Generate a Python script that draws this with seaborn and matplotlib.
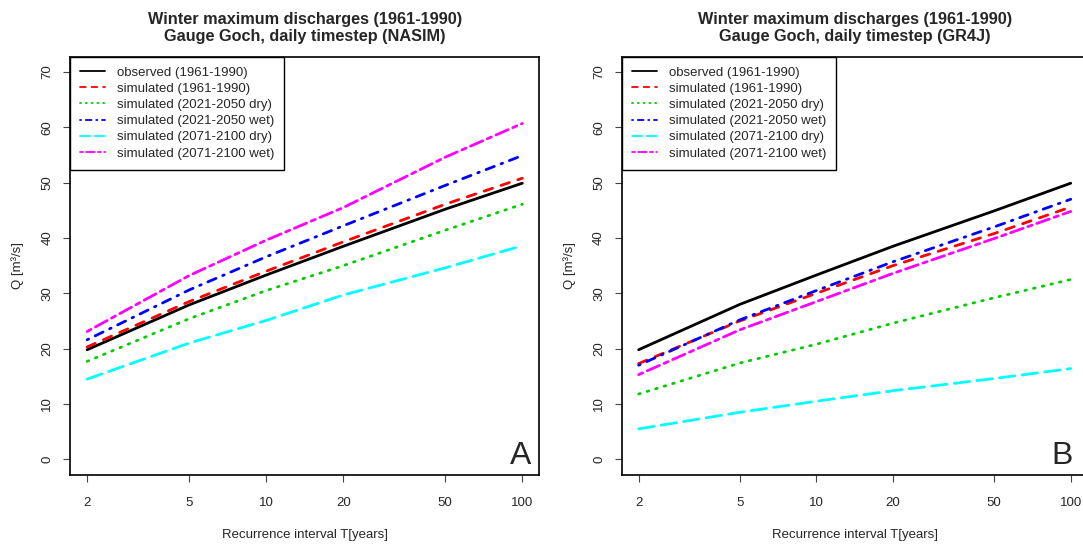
import numpy as np
import pandas as pd
import matplotlib
matplotlib.use("Agg")
import matplotlib.pyplot as plt
from matplotlib.lines import Line2D
from matplotlib.ticker import FixedLocator, FixedFormatter, NullLocator
import seaborn as sns

# recurrence intervals [years]
T = [2, 5, 10, 20, 50, 100]

series = ["observed (1961-1990)", "simulated (1961-1990)",
          "simulated (2021-2050 dry)", "simulated (2021-2050 wet)",
          "simulated (2071-2100 dry)", "simulated (2071-2100 wet)"]

# NASIM, Q [m3/s]
nasim_obs = [19.8, 27.9, 33.3, 38.5, 45.2, 49.9]
nasim_sim = [20.3, 28.5, 34.0, 39.3, 46.1, 50.8]
nasim_dry2050 = [17.7, 25.4, 30.5, 35.0, 41.4, 46.1]
nasim_wet2050 = [21.6, 30.6, 36.6, 42.2, 49.5, 54.9]
nasim_dry2100 = [14.5, 21.0, 25.1, 29.7, 34.6, 38.6]
nasim_wet2100 = [23.1, 33.2, 39.6, 45.5, 54.6, 60.7]

# GR4J, Q [m3/s]
gr4j_obs = [19.8, 28.0, 33.3, 38.5, 44.9, 49.9]
gr4j_sim = [17.3, 25.0, 30.0, 35.0, 40.8, 45.6]
gr4j_dry2050 = [11.8, 17.4, 20.8, 24.6, 29.2, 32.5]
gr4j_wet2050 = [17.0, 25.2, 30.5, 35.7, 42.0, 47.0]
gr4j_dry2100 = [5.5, 8.5, 10.5, 12.4, 14.6, 16.4]
gr4j_wet2100 = [15.3, 23.4, 28.5, 33.6, 39.9, 44.8]

colors = ["#000000", "#FF0000", "#00CD00", "#0000FF", "#00FFFF", "#FF00FF"]
# R line types 1..6, in line-width units (round caps)
dash_list = ["", (3.2, 3.2), (0.6, 2.6), (0.6, 2.6, 3.2, 2.6), (5.6, 2.6), (1.6, 1.8, 4.8, 1.8)]


def make_table(values):
    rows = []
    for name, vals in zip(series, values):
        for t, q in zip(T, vals):
            rows.append({"T": t, "Q": q, "series": name})
    return pd.DataFrame(rows)


def draw_panel(ax, table, title, letter, letter_x):
    sns.lineplot(data=table, x="T", y="Q", hue="series", style="series",
                 hue_order=series, style_order=series,
                 palette=dict(zip(series, colors)),
                 dashes=dict(zip(series, dash_list)),
                 linewidth=2, legend=False, ax=ax,
                 dash_capstyle="round", solid_capstyle="round")
    ax.set_xscale("log")
    ax.set_xlim(1.716, 116.6)
    ax.set_ylim(-2.8, 72.8)
    ax.xaxis.set_major_locator(FixedLocator(T))
    ax.xaxis.set_major_formatter(FixedFormatter([str(t) for t in T]))
    ax.xaxis.set_minor_locator(NullLocator())
    ax.set_yticks(range(0, 71, 10))
    ax.tick_params(axis="both", bottom=True, left=True, direction="out",
                   length=5, width=0.8, labelsize=9.5, color="#444444")
    ax.tick_params(axis="x", pad=11)
    ax.tick_params(axis="y", pad=7, labelrotation=90)
    for lab in ax.get_yticklabels():
        lab.set_va("center")
    for sp in ax.spines.values():
        sp.set_visible(True)
        sp.set_color("black")
        sp.set_linewidth(1.2)
    ax.set_xlabel("Recurrence interval T[years]", fontsize=9.5)
    ax.set_ylabel("Q [m³/s]", fontsize=9.5)
    ax.xaxis.set_label_coords(0.5, -0.145)
    ax.xaxis.label.set_va("center")
    ax.yaxis.set_label_coords(-0.112, 0.5)
    ax.yaxis.label.set_va("center")
    ax.set_title(title, fontsize=11.7, fontweight="bold", pad=11, linespacing=1.15)
    handles = [Line2D([], [], color=c, lw=1.3, dashes=d if d else (None, None),
                      dash_capstyle="round")
               for c, d in zip(colors, dash_list)]
    leg = ax.legend(handles, series, loc="upper left", bbox_to_anchor=(0, 1),
                    borderaxespad=0, fancybox=False, edgecolor="black",
                    fontsize=9.5, handlelength=1.9, handletextpad=0.9,
                    borderpad=0.75, labelspacing=0.3, framealpha=1)
    leg.get_frame().set_linewidth(1.0)
    ax.text(letter_x, 0.026, letter, transform=ax.transAxes, ha="right", va="baseline",
            fontsize=23)


sns.set_style("white")
plt.rcParams["font.family"] = ["Liberation Sans", "DejaVu Sans"]

fig = plt.figure(figsize=(10.83, 5.44), dpi=100)
W, H = 1083.0, 544.0
bottom = (H - 474.8) / H
height = (474.8 - 56.5) / H
ax1 = fig.add_axes([70.1 / W, bottom, 469.3 / W, height])
ax2 = fig.add_axes([621.7 / W, bottom, 466.0 / W, height])

draw_panel(ax1, make_table([nasim_obs, nasim_sim, nasim_dry2050, nasim_wet2050,
                            nasim_dry2100, nasim_wet2100]),
           "Winter maximum discharges (1961-1990)\nGauge Goch, daily timestep (NASIM)", "A", 0.982)
draw_panel(ax2, make_table([gr4j_obs, gr4j_sim, gr4j_dry2050, gr4j_wet2050,
                            gr4j_dry2100, gr4j_wet2100]),
           "Winter maximum discharges (1961-1990)\nGauge Goch, daily timestep (GR4J)", "B", 0.968)

fig.savefig("out.png", dpi=100)
